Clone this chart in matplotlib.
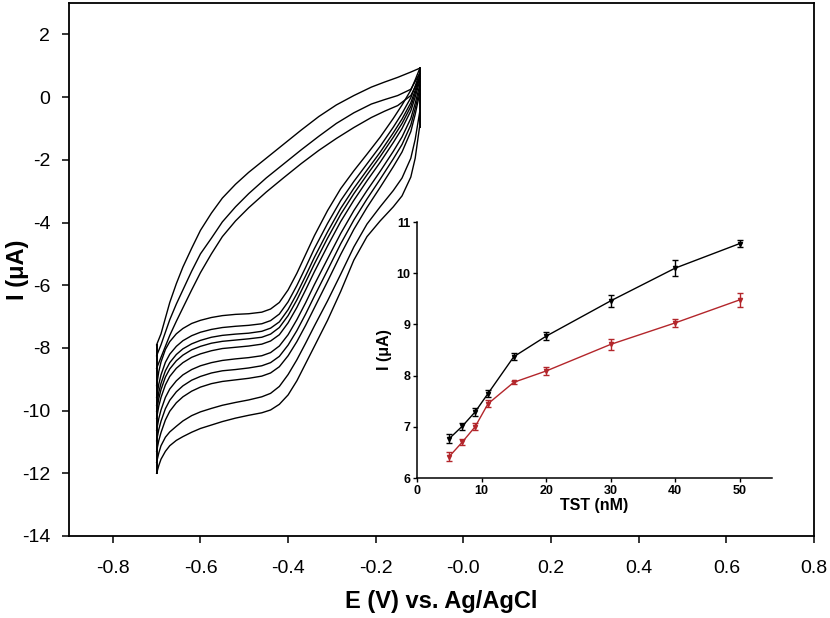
import numpy as np
import matplotlib
matplotlib.use("Agg")
import matplotlib.pyplot as plt

plt.rcParams['font.family'] = ['Liberation Sans', 'DejaVu Sans']
plt.rcParams['axes.unicode_minus'] = False

# --- CV data: forward branches, E in V, I in uA (top curve first)
E_low = [-0.700, -0.695, -0.690, -0.680, -0.670, -0.655, -0.640, -0.620, -0.600, -0.575,
         -0.550, -0.520, -0.490, -0.460, -0.440, -0.420, -0.400, -0.380, -0.360, -0.340,
         -0.310, -0.280, -0.250, -0.220, -0.190, -0.160, -0.140, -0.120, -0.110, -0.100]
I_low = [
    [-9.20, -8.75, -8.45, -8.05, -7.80, -7.55, -7.38, -7.22, -7.12, -7.03,
     -6.97, -6.93, -6.91, -6.86, -6.76, -6.55, -6.15, -5.62, -5.02, -4.42,
     -3.62, -2.92, -2.35, -1.82, -1.28, -0.68, -0.25, 0.22, 0.55, 0.90],
    [-9.58, -9.15, -8.86, -8.46, -8.20, -7.95, -7.77, -7.61, -7.50, -7.41,
     -7.35, -7.31, -7.28, -7.23, -7.13, -6.92, -6.53, -6.01, -5.43, -4.83,
     -4.03, -3.30, -2.69, -2.13, -1.57, -0.96, -0.52, -0.02, 0.35, 0.76],
    [-9.83, -9.41, -9.13, -8.73, -8.47, -8.21, -8.03, -7.87, -7.76, -7.66,
     -7.60, -7.56, -7.53, -7.47, -7.37, -7.17, -6.78, -6.27, -5.70, -5.11,
     -4.30, -3.55, -2.91, -2.33, -1.76, -1.14, -0.70, -0.18, 0.22, 0.66],
    [-10.02, -9.61, -9.33, -8.93, -8.67, -8.41, -8.23, -8.06, -7.95, -7.85,
     -7.79, -7.75, -7.71, -7.66, -7.56, -7.35, -6.97, -6.47, -5.90, -5.32,
     -4.50, -3.74, -3.08, -2.48, -1.90, -1.28, -0.84, -0.30, 0.12, 0.59],
    [-10.25, -9.85, -9.58, -9.18, -8.91, -8.65, -8.47, -8.30, -8.19, -8.09,
     -8.02, -7.98, -7.94, -7.88, -7.78, -7.58, -7.20, -6.71, -6.15, -5.57,
     -4.75, -3.97, -3.29, -2.67, -2.08, -1.45, -1.00, -0.44, 0.00, 0.50],
    [-10.63, -10.25, -9.98, -9.58, -9.31, -9.05, -8.86, -8.69, -8.57, -8.47,
     -8.40, -8.35, -8.31, -8.25, -8.15, -7.94, -7.58, -7.10, -6.56, -5.98,
     -5.16, -4.35, -3.62, -2.98, -2.37, -1.73, -1.27, -0.68, -0.20, 0.36],
    [-10.96, -10.60, -10.34, -9.94, -9.67, -9.40, -9.21, -9.03, -8.91, -8.80,
     -8.73, -8.69, -8.64, -8.57, -8.47, -8.27, -7.91, -7.45, -6.92, -6.35,
     -5.52, -4.68, -3.92, -3.25, -2.62, -1.97, -1.51, -0.89, -0.37, 0.23],
    [-11.30, -10.95, -10.70, -10.30, -10.02, -9.75, -9.56, -9.38, -9.25, -9.14,
     -9.07, -9.02, -8.97, -8.90, -8.80, -8.60, -8.25, -7.80, -7.28, -6.72,
     -5.88, -5.02, -4.22, -3.52, -2.88, -2.22, -1.75, -1.10, -0.55, 0.10],
    [-11.65, -11.35, -11.12, -10.85, -10.68, -10.50, -10.33, -10.16, -10.04, -9.93,
     -9.83, -9.74, -9.66, -9.56, -9.45, -9.23, -8.85, -8.38, -7.85, -7.30,
     -6.50, -5.65, -4.78, -4.05, -3.50, -2.98, -2.58, -1.95, -1.35, -0.50],
    [-12.00, -11.75, -11.55, -11.30, -11.12, -10.95, -10.83, -10.69, -10.57, -10.46,
     -10.35, -10.24, -10.15, -10.07, -9.98, -9.80, -9.50, -9.05, -8.50, -7.95,
     -7.12, -6.20, -5.20, -4.45, -3.95, -3.50, -3.15, -2.55, -1.95, -0.95],
]

# return branches (three separate traces visible)
E_up = [-0.100, -0.120, -0.150, -0.180, -0.210, -0.250, -0.290, -0.330, -0.370, -0.410,
        -0.450, -0.490, -0.520, -0.550, -0.575, -0.600, -0.620, -0.640, -0.655, -0.670,
        -0.680, -0.690, -0.700]
I_up = [
    [0.92, 0.80, 0.63, 0.48, 0.32, 0.05, -0.25, -0.62, -1.05, -1.50,
     -1.95, -2.40, -2.78, -3.22, -3.70, -4.25, -4.82, -5.42, -5.95, -6.55,
     -7.05, -7.55, -7.90],
    [0.75, 0.25, 0.05, -0.08, -0.22, -0.50, -0.84, -1.25, -1.68, -2.13,
     -2.58, -3.08, -3.50, -3.98, -4.50, -5.00, -5.55, -6.15, -6.60, -7.10,
     -7.50, -7.90, -8.25],
    [0.60, 0.05, -0.27, -0.45, -0.65, -0.97, -1.32, -1.70, -2.12, -2.57,
     -3.03, -3.53, -3.95, -4.45, -5.00, -5.60, -6.15, -6.72, -7.15, -7.60,
     -7.95, -8.30, -8.65],
]

# --- inset data: calibration vs TST concentration
tst = [5, 7, 9, 11, 15, 20, 30, 40, 50]
i_black = [6.77, 7.01, 7.29, 7.65, 8.37, 8.77, 9.46, 10.10, 10.58]
err_black = [0.085, 0.07, 0.07, 0.07, 0.07, 0.08, 0.11, 0.15, 0.06]
i_red = [6.42, 6.70, 7.00, 7.45, 7.87, 8.09, 8.61, 9.03, 9.48]
err_red = [0.08, 0.06, 0.07, 0.07, 0.03, 0.07, 0.10, 0.08, 0.14]

fig = plt.figure(figsize=(8.3, 6.18), dpi=100)
ax = fig.add_axes([0.0831, 0.1327, 0.8976, 0.8623])

for ys in I_low:
    ax.plot(E_low, ys, color='black', lw=1.0)
for ys in I_up:
    ax.plot(E_up, ys, color='black', lw=1.0)

# vertical switching segments at both potential limits
left_ends = [c[0] for c in I_low] + [c[-1] for c in I_up]
right_ends = [c[-1] for c in I_low] + [c[0] for c in I_up]
ax.plot([E_low[0], E_low[0]], [min(left_ends), max(left_ends)], color='black', lw=1.4)
ax.plot([E_low[-1], E_low[-1]], [min(right_ends), max(right_ends)], color='black', lw=1.4)

ax.set_xlim(-0.9, 0.8)
ax.set_ylim(-14, 3)
xt = np.arange(-0.8, 0.81, 0.2)
ax.set_xticks(xt)
ax.set_xticklabels([f"{v:.1f}" for v in xt])
ax.set_yticks(np.arange(-14, 2.1, 2))
ax.tick_params(direction='out', length=5, width=1.1, labelsize=14, top=False, right=False)
ax.tick_params(axis='x', pad=12)
ax.tick_params(axis='y', pad=8.5)
for s in ax.spines.values():
    s.set_linewidth(1.3)
ax.set_xlabel('E (V) vs. Ag/AgCl', fontsize=17, fontweight='bold')
ax.set_ylabel('I (μA)', fontsize=17, fontweight='bold')
ax.xaxis.set_label_coords(0.5, -0.102)
ax.yaxis.set_label_coords(-0.053, 0.5)

# --- inset
ax2 = fig.add_axes([0.5024, 0.2265, 0.4277, 0.4142])
ax2.patch.set_alpha(0)
ax2.errorbar(tst, i_black, yerr=err_black, fmt='-v', color='black', ms=3,
             lw=1.0, elinewidth=1.0, capsize=2.5, capthick=1.0)
ax2.errorbar(tst, i_red, yerr=err_red, fmt='-v', color='#b3262b', ms=3,
             lw=1.0, elinewidth=1.0, capsize=2.5, capthick=1.0)
ax2.set_xlim(0, 55)
ax2.set_ylim(6, 11)
ax2.set_xticks([0, 10, 20, 30, 40, 50])
ax2.set_yticks([6, 7, 8, 9, 10, 11])
ax2.spines['top'].set_visible(False)
ax2.spines['right'].set_visible(False)
ax2.spines['left'].set_linewidth(1.1)
ax2.spines['bottom'].set_linewidth(1.1)
ax2.tick_params(direction='out', length=3, width=1.0, labelsize=9, pad=2)
for lab in ax2.get_xticklabels() + ax2.get_yticklabels():
    lab.set_fontweight('bold')
ax2.set_xlabel('TST (nM)', fontsize=11.5, fontweight='bold', labelpad=1)
ax2.set_ylabel('I (μA)', fontsize=11.5, fontweight='bold', labelpad=3)

fig.savefig('out.png', dpi=100)
